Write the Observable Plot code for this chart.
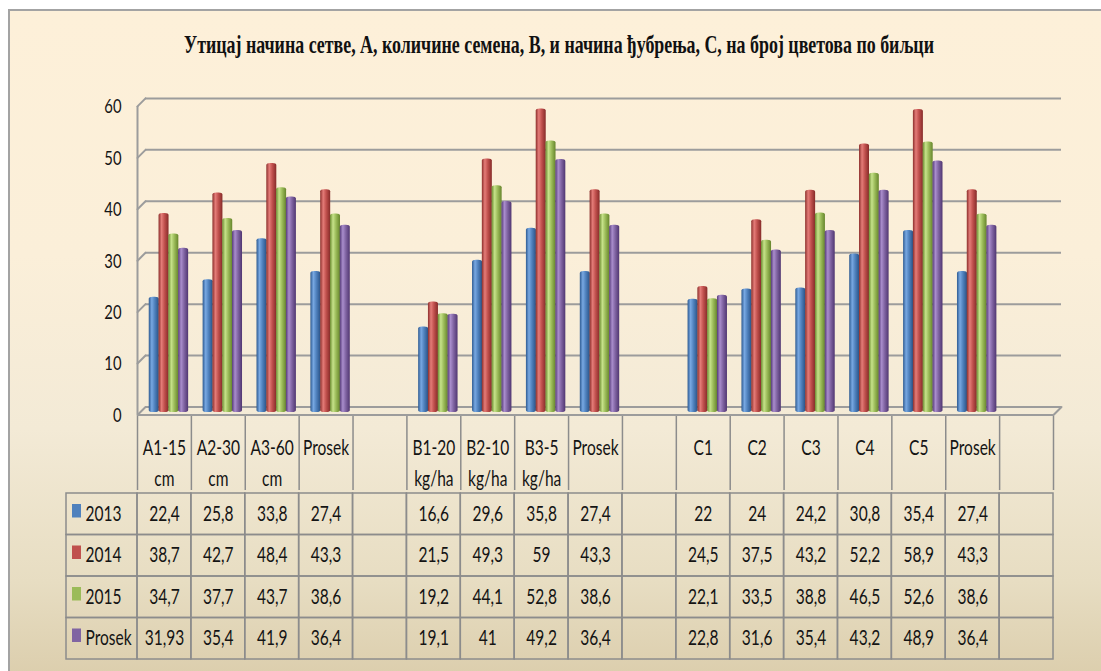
<!DOCTYPE html>
<html><head><meta charset="utf-8">
<script src="https://cdn.jsdelivr.net/npm/d3@7"></script>
<script src="https://cdn.jsdelivr.net/npm/@observablehq/plot@0.6"></script>
<style>
html,body{margin:0;padding:0;background:#fff;}
#page{position:relative;width:1101px;height:671px;overflow:hidden;}
#frame{position:absolute;left:8px;top:9px;width:1120px;height:700px;border:2px solid #a3a3a3;box-sizing:border-box;
 background:linear-gradient(to bottom,#fdf0d9 0%,#fbefd9 35%,#f3ead6 60%,#e7ddc2 82%,#d8c9a6 100%);}
#title{position:absolute;left:559px;top:32px;white-space:nowrap;font:bold 25px 'Liberation Serif','Times New Roman',serif;line-height:25px;color:#111;transform-origin:0 0;}
#chart,#table{position:absolute;left:0;width:1101px;}
#chart{top:0}
#table{top:490px}
</style></head>
<body><div id="page"><div id="frame"></div><div id="title"></div><div id="chart"></div><div id="table"></div></div>
<script>
// ---- data ----
const titleText = "Утицај начина сетве, А, количине семена, В, и начина ђубрења, С, на број цветова по биљци";
const columnKeys = ["A1","A2","A3","PA","gap1","B1","B2","B3","PB","gap2","C1","C2","C3","C4","C5","PC","gap3"];
const columnLabels = ["A1-15\ncm","A2-30\ncm","A3-60\ncm","Prosek","","B1-20\nkg/ha","B2-10\nkg/ha","B3-5\nkg/ha","Prosek","","C1","C2","C3","C4","C5","Prosek",""];
const seriesNames = ["2013","2014","2015","Prosek"];
const seriesColors = ["#4f81bd","#c0504d","#9bbb59","#8064a2"];
const values2013   = [22.4, 25.8, 33.8, 27.4, null, 16.6, 29.6, 35.8, 27.4, null, 22, 24, 24.2, 30.8, 35.4, 27.4, null];
const values2014   = [38.7, 42.7, 48.4, 43.3, null, 21.5, 49.3, 59, 43.3, null, 24.5, 37.5, 43.2, 52.2, 58.9, 43.3, null];
const values2015   = [34.7, 37.7, 43.7, 38.6, null, 19.2, 44.1, 52.8, 38.6, null, 22.1, 33.5, 38.8, 46.5, 52.6, 38.6, null];
const valuesProsek = [31.93, 35.4, 41.9, 36.4, null, 19.1, 41, 49.2, 36.4, null, 22.8, 31.6, 35.4, 43.2, 48.9, 36.4, null];
const yTicks = [0, 10, 20, 30, 40, 50, 60];

const seriesValues = [values2013, values2014, values2015, valuesProsek];
const fmt = v => v == null ? "" : String(v).replace(".", ",");

// ---- layout / style ----
const W = 1101, ML = 137, MR = 48;
const bw = (W - ML - MR) / columnKeys.length;
const fontFamily = "Lato, 'Open Sans', sans-serif";
const gridColor = "#9c9c9c", tableStroke = "#8c8c8c", textColor = "#141414";
const barW = 10, barStep = 9.8, depthShift = 4.5;
const condenseK = 0.74;
const lineShape = {draw(context, l) { context.moveTo(0, 0); context.lineTo(0, -l); }};

// title
const titleEl = document.getElementById("title");
titleEl.textContent = titleText;
const tw = titleEl.getBoundingClientRect().width;
const tk = 750 / tw;
titleEl.style.transform = `translateX(-375px) scaleX(${tk})`;

function condense(svg, k) {
  svg.querySelectorAll("text").forEach(t => {
    const num = /^-?[\d.]+$/;
    const xa = t.getAttribute("x"), ya = t.getAttribute("y");
    const x = xa && num.test(xa) ? +xa : 0;
    const y = ya && num.test(ya) ? +ya : 0;
    if (xa && num.test(xa)) t.removeAttribute("x");
    if (ya && num.test(ya)) t.removeAttribute("y");
    const tr = t.getAttribute("transform") || "";
    t.setAttribute("transform", `${tr} translate(${x},${y}) scale(${k},1)`);
  });
}

const bars = seriesNames.map((s, i) => Plot.barY(
  columnKeys.map((k, j) => ({key: k, value: seriesValues[i][j]})).filter(d => d.value != null),
  {x: "key", y: "value", fill: `url(#cyl${i})`,
   insetLeft: (bw - barW) / 2, insetRight: (bw - barW) / 2,
   dx: depthShift + (i - 1.5) * barStep, rx: 4, ry: 2}
));

const xScale = {type: "band", domain: columnKeys, padding: 0, round: false, axis: null};

const chart = Plot.plot({
  width: W, height: 490, marginLeft: ML, marginRight: MR, marginTop: 103.4, marginBottom: 78,
  style: {background: "transparent", fontFamily, overflow: "visible"},
  x: xScale,
  y: {domain: [0, 60], axis: null},
  marks: [
    Plot.ruleY(yTicks, {dx: 8, dy: -5.5, stroke: gridColor, strokeWidth: 2}),
    Plot.vector(yTicks, {y: d => d, frameAnchor: "left", dy: 2.5, length: 11.3, rotate: 45, anchor: "start", shape: lineShape, stroke: gridColor, strokeWidth: 2}),
    Plot.vector([0], {y: d => d, frameAnchor: "right", dy: 2.5, length: 11.3, rotate: 45, anchor: "start", shape: lineShape, stroke: gridColor, strokeWidth: 2}),
    Plot.ruleX([columnKeys[0]], {y1: 0, y2: 60, dx: -bw / 2, dy: 2.5, stroke: gridColor, strokeWidth: 2}),
    Plot.ruleY([0], {dy: 2.5, stroke: gridColor, strokeWidth: 2}),
    ...bars,
    Plot.axisY({ticks: yTicks, tickSize: 0, tickPadding: 16, dy: 3, fontSize: 20, label: null, fill: textColor}),
    Plot.axisX({ticks: columnKeys, tickSize: 74, tickFormat: () => "", dx: -bw / 2, dy: 4, stroke: tableStroke, strokeWidth: 1.5, label: null}),
    Plot.axisX({ticks: [columnKeys[columnKeys.length - 1]], tickSize: 74, tickFormat: () => "", dx: bw / 2, dy: 4, stroke: tableStroke, strokeWidth: 1.5, label: null}),
    Plot.text(columnKeys, {x: d => d, text: (d, i) => columnLabels[i], frameAnchor: "bottom", dy: 21, lineAnchor: "top", lineHeight: 1.45, fontSize: 21, fill: textColor})
  ]
});

// cylinder gradients
const shades = [
  ["#2d5a91", "#78a8e2", "#4f81bd", "#2a5286"],
  ["#8c2e2b", "#e47c78", "#c0504d", "#862b29"],
  ["#6b8b30", "#c6e28a", "#9bbb59", "#66852c"],
  ["#553a78", "#a98dcc", "#8064a2", "#503671"]
];
const defs = d3.select(chart).insert("defs", ":first-child");
shades.forEach((c, i) => {
  const g = defs.append("linearGradient").attr("id", `cyl${i}`).attr("x1", 0).attr("x2", 1).attr("y1", 0).attr("y2", 0);
  [[0, c[0]], [0.3, c[1]], [0.6, c[2]], [1, c[3]]].forEach(([o, col]) => g.append("stop").attr("offset", o).attr("stop-color", col));
});
condense(chart, condenseK);
document.getElementById("chart").append(chart);

// ---- data table ----
const tableRows = seriesNames.flatMap((s, i) => columnKeys.map((k, j) => ({row: s, col: k, text: fmt(seriesValues[i][j])})));
const table = Plot.plot({
  width: W, height: 172, marginLeft: ML, marginRight: MR, marginTop: 3, marginBottom: 3,
  style: {background: "transparent", fontFamily, overflow: "visible"},
  x: xScale,
  y: {type: "band", domain: seriesNames, padding: 0, round: false, axis: null},
  color: {domain: seriesNames, range: seriesColors},
  marks: [
    Plot.cell(tableRows, {x: "col", y: "row", fill: "none", stroke: tableStroke, strokeWidth: 1.5}),
    Plot.cell(seriesNames, {x: () => columnKeys[0], y: d => d, fill: "none", stroke: tableStroke, strokeWidth: 1.5, insetLeft: -71, insetRight: bw}),
    Plot.cell(seriesNames, {x: () => columnKeys[0], y: d => d, fill: d => d, insetLeft: -65, insetRight: bw + 71 - 6 - 9, insetTop: 11, insetBottom: 17}),
    Plot.text(seriesNames, {y: d => d, text: d => d, frameAnchor: "left", dx: -52, textAnchor: "start", fontSize: 21, fill: textColor}),
    Plot.text(tableRows, {x: "col", y: "row", text: "text", fontSize: 21, fill: textColor})
  ]
});
condense(table, condenseK);
document.getElementById("table").append(table);
</script>
</body></html>
